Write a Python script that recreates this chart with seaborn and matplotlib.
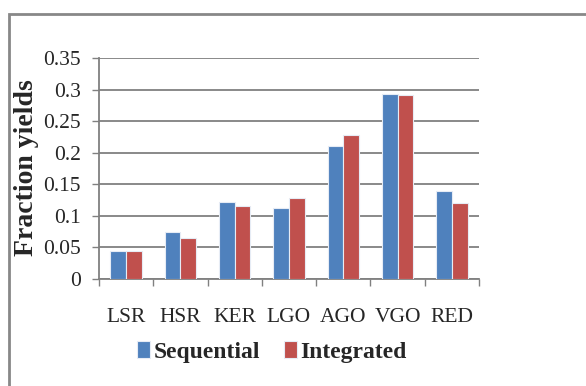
import numpy as np
import pandas as pd
import seaborn as sns
import matplotlib.pyplot as plt
from matplotlib.patches import Rectangle

# Fraction yields per cut
fractions = ['LSR', 'HSR', 'KER', 'LGO', 'AGO', 'VGO', 'RED']
sequential = [0.044, 0.074, 0.122, 0.112, 0.210, 0.293, 0.139]
integrated = [0.044, 0.065, 0.116, 0.128, 0.228, 0.291, 0.120]
series_names = ['Sequential', 'Integrated']
colors = ['#4F81BD', '#C0504D']
y_ticks = [0, 0.05, 0.1, 0.15, 0.2, 0.25, 0.3, 0.35]
y_tick_labels = ['0', '0.05', '0.1', '0.15', '0.2', '0.25', '0.3', '0.35']

sns.set_style('white')
plt.rcParams['font.family'] = ['Liberation Serif', 'DejaVu Serif']

df = pd.DataFrame({
    'Fraction': fractions * 2,
    'Yield': sequential + integrated,
    'Process': [series_names[0]] * len(fractions) + [series_names[1]] * len(fractions),
})

fig = plt.figure(figsize=(5.86, 3.86), dpi=100)
ax = fig.add_axes([99 / 586, 1 - 279 / 386, 380 / 586, 221 / 386])

sns.barplot(data=df, x='Fraction', y='Yield', hue='Process', order=fractions,
            hue_order=series_names, palette=colors, width=0.58, ax=ax,
            edgecolor='#e6ecf5', linewidth=0.8, saturation=1, zorder=3)

ax.set_ylim(0, 0.35)
ax.set_xlim(-0.5, len(fractions) - 0.5)
ax.set_yticks(y_ticks)
ax.set_yticklabels(y_tick_labels, fontsize=15.5)
ax.yaxis.grid(True, color='#808080', linewidth=1.3, zorder=0)
ax.set_axisbelow(True)

# category ticks sit on the boundaries, labels in the middle
ax.set_xticks(np.arange(-0.5, len(fractions), 1), minor=True)
ax.tick_params(axis='x', which='major', length=0, pad=21, labelsize=15.5)
ax.tick_params(axis='x', which='minor', length=5, width=1, color='#808080',
               direction='out', bottom=True)
ax.tick_params(axis='y', length=5, width=1, color='#808080', left=True, pad=8)

sns.despine(ax=ax, top=True, right=True)
for side in ['left', 'bottom']:
    ax.spines[side].set_color('#808080')
    ax.spines[side].set_linewidth(1.3)

ax.set_xlabel('')
ax.set_ylabel('')
fig.text(27 / 586, 1 - 168 / 386, 'Fraction yields', rotation=90, fontsize=20,
         fontweight='bold', ha='center', va='center')

handles, labels = ax.get_legend_handles_labels()
ax.legend_.remove()
fig.legend(handles, labels, loc='center', bbox_to_anchor=(272 / 586, 1 - 352 / 386),
           ncol=2, frameon=False, prop={'weight': 'bold', 'size': 17},
           handlelength=0.55, handleheight=0.75, handletextpad=0.15, columnspacing=1.0)

# outer chart frame
fig.patches.append(Rectangle((9 / 586, -0.05), 1.2, 1 - 14 / 386 + 0.05,
                             transform=fig.transFigure, fill=False,
                             edgecolor='#888888', linewidth=2))

fig.savefig('out.png', dpi=100)
